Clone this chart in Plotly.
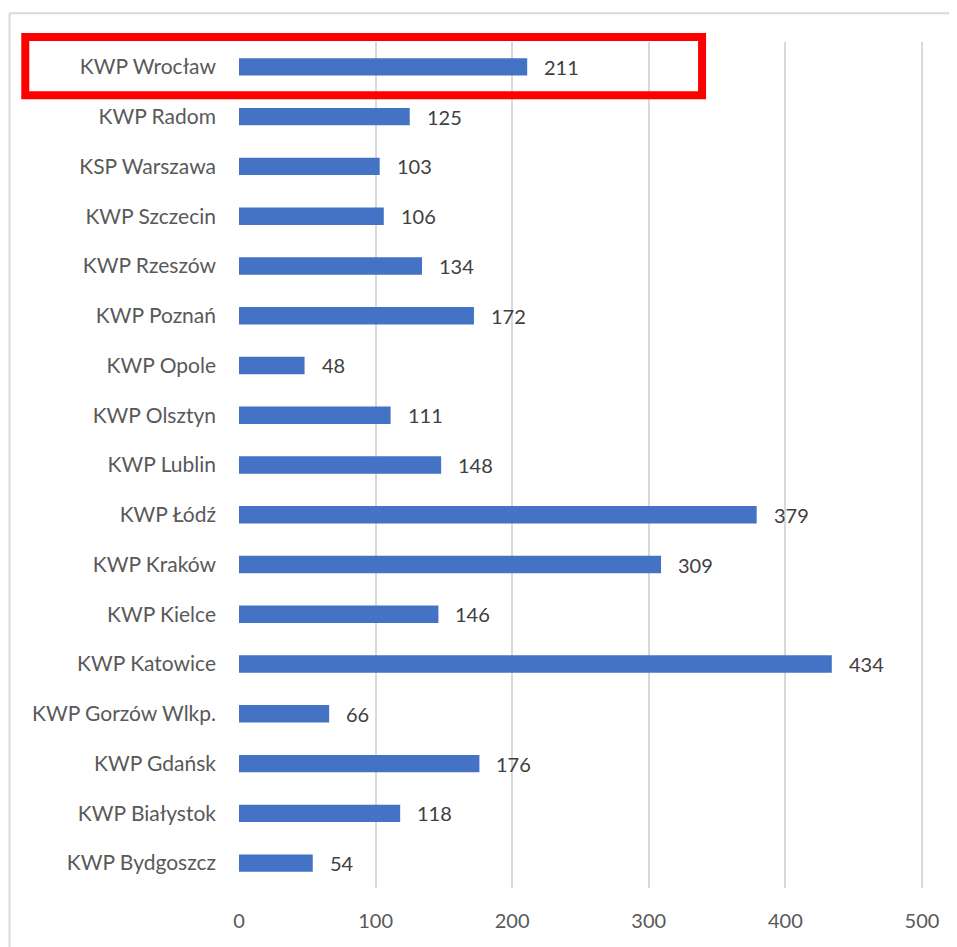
import plotly.graph_objects as go

categories = ["KWP Bydgoszcz", "KWP Białystok", "KWP Gdańsk", "KWP Gorzów Wlkp.",
              "KWP Katowice", "KWP Kielce", "KWP Kraków", "KWP Łódź", "KWP Lublin",
              "KWP Olsztyn", "KWP Opole", "KWP Poznań", "KWP Rzeszów", "KWP Szczecin",
              "KSP Warszawa", "KWP Radom", "KWP Wrocław"]
values = [54, 118, 176, 66, 434, 146, 309, 379, 148, 111, 48, 172, 134, 106, 103, 125, 211]
x_ticks = [0, 100, 200, 300, 400, 500]

FONT = "Lato"
fig = go.Figure(go.Bar(
    x=values, y=categories, orientation="h",
    marker=dict(color="#4472C4", line=dict(width=0)),
    hoverinfo="skip",
))

for c, v in zip(categories, values):
    fig.add_annotation(x=v, y=c, text=str(v), showarrow=False, xanchor="left",
                       xshift=15, font=dict(family=FONT, size=20, color="#404040"))

# red highlight rectangle around top row
fig.add_shape(type="rect", xref="paper", yref="paper",
              x0=-0.312, x1=0.676, y0=0.937, y1=1.006,
              line=dict(color="#FF0000", width=8), fillcolor="rgba(0,0,0,0)")
# outer chart border (top and left visible)
fig.add_shape(type="line", xref="paper", yref="paper", x0=-0.335, x1=1.2, y0=1.034, y1=1.034,
              line=dict(color="#D9D9D9", width=2))
fig.add_shape(type="line", xref="paper", yref="paper", x0=-0.335, x1=-0.335, y0=1.034, y1=-0.2,
              line=dict(color="#D9D9D9", width=2))

fig.update_layout(
    width=949, height=939,
    margin=dict(l=231, r=33, t=34, b=59),
    paper_bgcolor="white", plot_bgcolor="white",
    bargap=0.65, showlegend=False,
    xaxis=dict(range=[0, 501.5], tickvals=x_ticks, showgrid=True, gridcolor="#D9D9D9",
               gridwidth=1.5, zeroline=False, showline=False, ticks="",
               ticklabelstandoff=19,
               tickfont=dict(family=FONT, size=20, color="#595959")),
    yaxis=dict(showgrid=False, zeroline=False, showline=False, ticks="",
               ticklabelstandoff=22, categoryorder="array", categoryarray=categories,
               tickfont=dict(family=FONT, size=21, color="#595959")),
)

fig.write_html("out.html")
